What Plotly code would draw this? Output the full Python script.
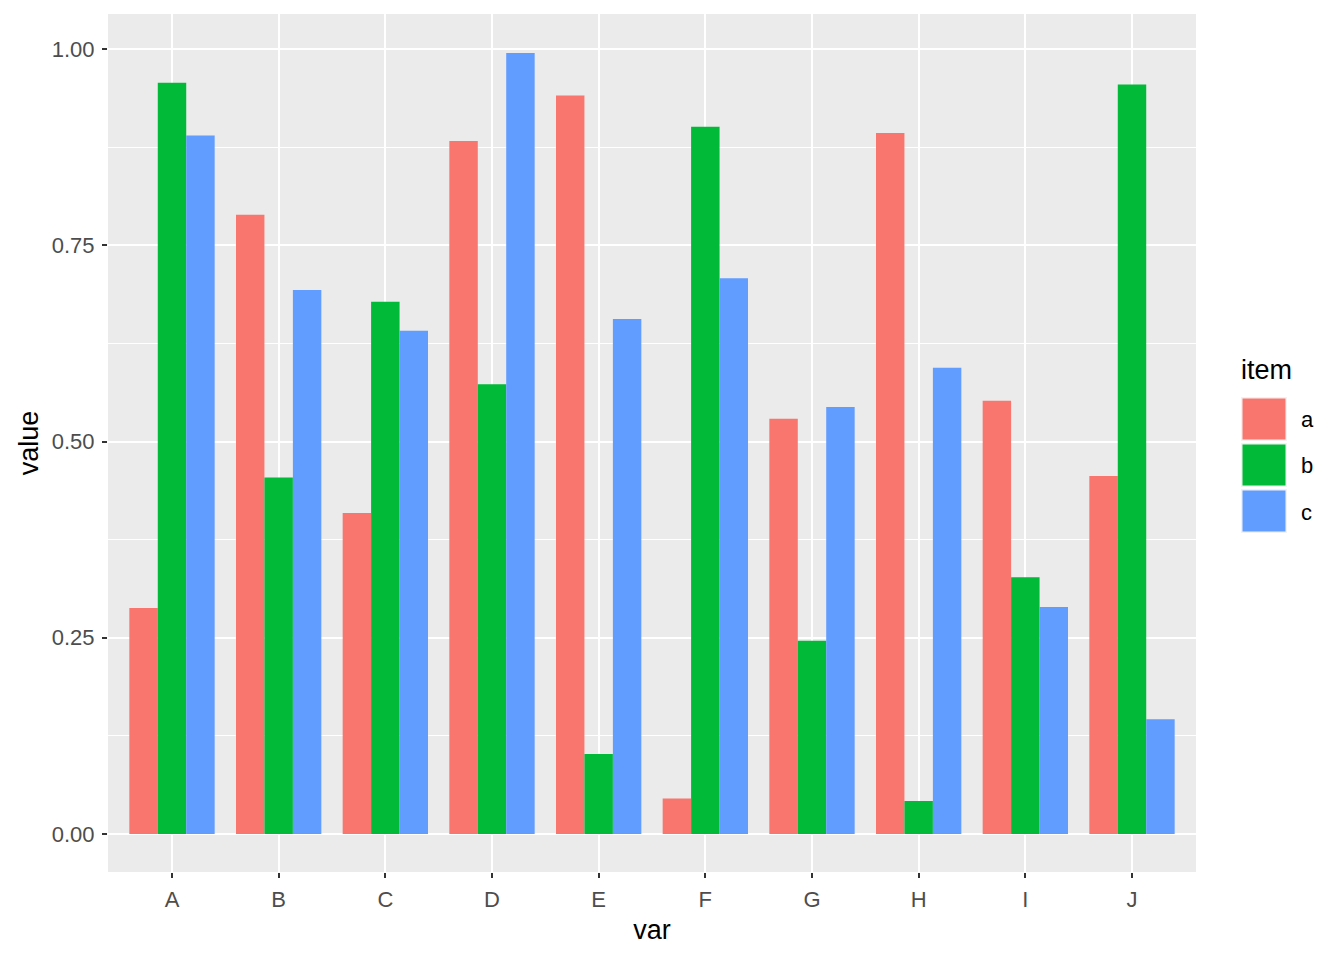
import plotly.graph_objects as go

categories = ["A", "B", "C", "D", "E", "F", "G", "H", "I", "J"]
items = ["a", "b", "c"]
values_a = [0.288, 0.789, 0.409, 0.883, 0.941, 0.045, 0.529, 0.893, 0.552, 0.456]
values_b = [0.957, 0.454, 0.678, 0.573, 0.102, 0.901, 0.246, 0.042, 0.327, 0.955]
values_c = [0.890, 0.693, 0.641, 0.995, 0.656, 0.708, 0.544, 0.594, 0.289, 0.146]
series = [values_a, values_b, values_c]
colors = ["#F8766D", "#00BA38", "#619CFF"]
y_ticks = [0.0, 0.25, 0.5, 0.75, 1.0]
y_tick_labels = ["0.00", "0.25", "0.50", "0.75", "1.00"]

fig = go.Figure()
for name, vals, col in zip(items, series, colors):
    fig.add_trace(go.Bar(x=categories, y=vals, name=name, marker=dict(color=col, line=dict(width=0)),
                         showlegend=False, hoverinfo="skip"))

W, H = 1344, 960
L, R, T, B = 108, 148, 14, 88
FONT = "Liberation Sans, Arial, sans-serif"

fig.update_layout(
    width=W, height=H,
    margin=dict(l=L, r=R, t=T, b=B, pad=0),
    paper_bgcolor="white",
    plot_bgcolor="#EBEBEB",
    barmode="group", bargap=0.2, bargroupgap=0,
    font=dict(family=FONT),
)
fig.update_xaxes(
    range=[-0.6, 9.6], showgrid=True, gridcolor="white", gridwidth=2,
    ticks="outside", ticklen=5, tickwidth=2, tickcolor="#333333",
    tickfont=dict(size=22, color="#4D4D4D"), zeroline=False, ticklabelstandoff=3,
    title=dict(text="var", font=dict(size=27, color="black"), standoff=8),
)
fig.update_yaxes(
    range=[-0.0485, 1.0447], tickvals=y_ticks, ticktext=y_tick_labels,
    showgrid=True, gridcolor="white", gridwidth=2,
    minor=dict(tickvals=[0.125, 0.375, 0.625, 0.875], showgrid=True, gridcolor="white", gridwidth=1, ticks=""),
    ticks="outside", ticklen=5, tickwidth=2, tickcolor="#333333",
    tickfont=dict(size=22, color="#4D4D4D"), zeroline=False, ticklabelstandoff=3,
    title=dict(text="value", font=dict(size=27, color="black"), standoff=5),
)

plot_w = W - L - R
plot_h = H - T - B

def ax(px):
    return (px - L) / plot_w

def ay(py):
    return (H - B - py) / plot_h

fig.add_annotation(xref="paper", yref="paper", x=ax(1239), y=ay(370),
                   text="item", showarrow=False, xanchor="left", yanchor="middle",
                   font=dict(size=27, color="black"))
key_tops = [397, 443, 489]
for name, col, top in zip(items, colors, key_tops):
    fig.add_shape(type="rect", xref="paper", yref="paper", x0=ax(1241), x1=ax(1287),
                  y0=ay(top + 44), y1=ay(top),
                  fillcolor="#F2F2F2", line=dict(width=0), layer="above")
    fig.add_shape(type="rect", xref="paper", yref="paper",
                  x0=ax(1242.5), x1=ax(1285.5),
                  y0=ay(top + 42.5), y1=ay(top + 1.5),
                  fillcolor=col, line=dict(width=0), layer="above")
    fig.add_annotation(xref="paper", yref="paper", x=ax(1299), y=ay(top + 23),
                       text=name, showarrow=False, xanchor="left", yanchor="middle",
                       font=dict(size=22, color="black"))

fig.write_html("out.html", config={"displayModeBar": False},
               post_script="document.body.style.margin='0';window.dispatchEvent(new Event('resize'));")
